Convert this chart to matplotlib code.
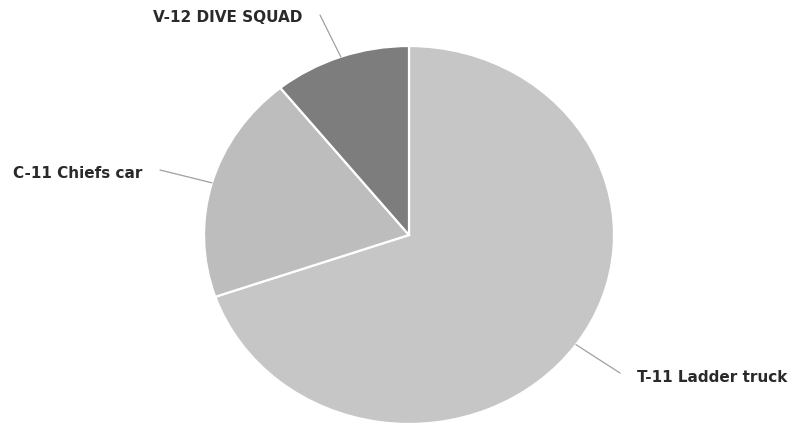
import matplotlib
matplotlib.use("Agg")
import matplotlib.pyplot as plt
import numpy as np

labels = ["T-11 Ladder truck", "C-11 Chiefs car", "V-12 DIVE SQUAD"]
values = [69.7, 19.5, 10.8]
colors = ["#c6c6c6", "#bdbdbd", "#7d7d7d"]

W, H = 793, 425
fig = plt.figure(figsize=(W / 100, H / 100), dpi=100)
ax = fig.add_axes([0, 0, 1, 1])

wedges, _ = ax.pie(values, colors=colors, startangle=90, counterclock=False,
                   radius=1.0, center=(0, 0),
                   wedgeprops=dict(edgecolor="white", linewidth=1.6))

# slightly elliptical (scanned) appearance: separate x/y scales
cx, cy, rx, ry = 409, 235, 205, 189
ax.set_aspect("auto")
ax.set_xlim(-cx / rx, (W - cx) / rx)
ax.set_ylim(-(H - cy) / ry, cy / ry)
ax.axis("off")


def px2d(px, py):
    return (px - cx) / rx, (cy - py) / ry


# label placement in image pixels (from top-left): text anchor, leader start
text_pos = {
    "V-12 DIVE SQUAD": ((228, 17), "center", (320, 15)),
    "C-11 Chiefs car": ((13, 173), "left", (160, 170)),
    "T-11 Ladder truck": ((637, 378), "left", (620, 373)),
}

for w, lab in zip(wedges, labels):
    mid = np.deg2rad((w.theta1 + w.theta2) / 2)
    ex, ey = np.cos(mid), np.sin(mid)
    (tx, ty), ha, (lx, ly) = text_pos[lab]
    x0, y0 = px2d(lx, ly)
    ax.plot([x0, ex], [y0, ey], color="#a0a0a0", lw=0.9, solid_capstyle="round")
    tdx, tdy = px2d(tx, ty)
    ax.text(tdx, tdy, lab, ha=ha, va="center", fontsize=11,
            fontweight="bold", color="#2a2a2a", family="DejaVu Sans")

fig.savefig("out.png", dpi=100)
